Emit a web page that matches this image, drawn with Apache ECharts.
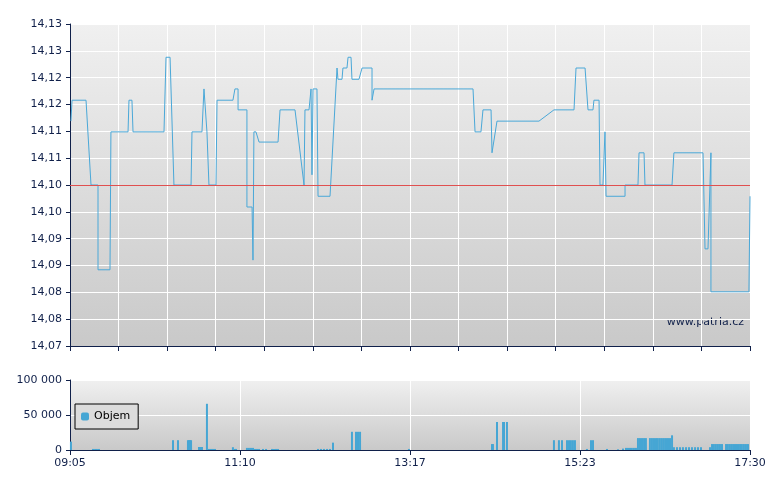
<!DOCTYPE html>
<html>
<head>
<meta charset="utf-8">
<script src="https://cdn.jsdelivr.net/npm/echarts@6/dist/echarts.min.js"></script>
<style>html,body{margin:0;background:#fff}#c{width:780px;height:490px}</style>
</head>
<body>
<div id="c"></div>
<script>
// minutes since 09:05
var priceTimes = [0.7,1.5,11.9,15.6,20.8,20.8,29.7,30.4,43.1,43.8,46.0,46.8,69.8,71.3,74.3,77.2,89.9,90.6,98.0,99.5,100.3,101.7,103.2,108.4,109.2,121.0,122.5,124.8,124.8,131.4,131.4,135.2,135.9,136.6,138.1,140.4,154.5,156.0,167.1,173.8,174.5,177.5,179.0,179.7,179.7,180.5,183.4,184.2,193.1,198.3,199.0,202.0,202.7,205.7,206.5,208.7,209.4,214.6,216.9,224.3,224.3,225.8,299.3,300.8,305.2,306.7,312.7,313.4,317.1,348.3,359.4,374.3,375.8,382.5,384.7,388.4,389.1,392.9,393.6,395.8,397.3,398.1,412.2,412.2,421.8,422.6,426.3,427.0,447.1,448.5,470.1,471.6,473.8,476.0,476.0,504.2,505];
var priceValues = [14.1119,14.1158,14.1158,14.1000,14.1000,14.0842,14.0842,14.1099,14.1099,14.1158,14.1158,14.1099,14.1099,14.1238,14.1238,14.1000,14.1000,14.1099,14.1099,14.1179,14.1179,14.1099,14.1000,14.1000,14.1158,14.1158,14.1179,14.1179,14.1140,14.1140,14.0959,14.0959,14.0860,14.1099,14.1099,14.1080,14.1080,14.1140,14.1140,14.1000,14.1140,14.1140,14.1179,14.1179,14.1019,14.1179,14.1179,14.0979,14.0979,14.1218,14.1197,14.1197,14.1218,14.1218,14.1238,14.1238,14.1197,14.1197,14.1218,14.1218,14.1158,14.1179,14.1179,14.1099,14.1099,14.1140,14.1140,14.1060,14.1119,14.1119,14.1140,14.1140,14.1218,14.1218,14.1140,14.1140,14.1158,14.1158,14.1000,14.1000,14.1099,14.0979,14.0979,14.1000,14.1000,14.1060,14.1060,14.1000,14.1000,14.1060,14.1060,14.0881,14.0881,14.1060,14.0801,14.0801,14.0979];
var refPrice = 14.098;
var volTimes = [0.7,17.1,18.6,20.0,21.5,76.5,80.2,87.6,88.4,89.1,89.9,95.8,97.3,98.0,101.7,103.2,104.7,106.2,107.7,121.0,122.5,123.3,131.4,132.9,134.4,135.9,137.4,138.9,140.4,143.3,145.6,150.0,151.5,153.0,154.5,184.2,186.4,188.6,190.9,193.1,195.3,209.4,212.4,213.9,215.4,251.7,313.4,314.1,317.1,321.6,322.3,324.5,359.4,363.1,365.4,369.1,370.6,372.0,373.5,375.0,383.9,386.9,388.4,398.8,407.0,410.7,412.9,414.4,415.9,417.3,418.8,420.3,421.8,423.3,424.8,426.3,427.7,430.7,432.2,433.7,435.2,436.6,438.1,439.6,441.1,442.6,444.1,445.6,447.1,448.5,450.8,453.0,455.2,457.5,459.7,461.9,464.2,466.4,468.6,475.3,476.8,478.2,479.7,481.2,482.7,484.2,487.2,488.6,490.1,491.6,493.1,494.6,496.1,497.6,499.0,500.5,502.0,503.5];
var volValues = [12000,1500,1500,1500,1500,14000,14000,14000,14000,14000,14000,4300,4300,4300,66000,1500,1500,1500,1500,4000,1500,1500,3000,3000,3000,3000,1500,1500,1500,1500,1500,1500,1500,1500,1500,1500,1500,1500,1500,1500,10500,26000,26000,26000,26000,1500,8500,8500,40000,40000,40000,40000,14000,14000,14000,14000,14000,14000,14000,14000,1500,14000,14000,1500,1000,2000,3000,3000,3000,3000,3000,3000,17000,17000,17000,17000,17000,17000,17000,17000,17000,17000,17000,17000,17000,17000,17000,17000,21000,4000,4000,4000,4000,4000,4000,4000,4000,4000,4000,4000,8500,8500,8500,8500,8500,8500,8500,8500,8500,8500,8500,8500,8500,8500,8500,8500,8500,8500];
var timeLabels = ['09:05','11:10','13:17','15:23','17:30'];

var navy = '#10204a';
var bg = {type:'linear',x:0,y:0,x2:0,y2:1,colorStops:[{offset:0,color:'#f0f0f0'},{offset:1,color:'#c9c9c9'}]};
var chart = echarts.init(document.getElementById('c'), null, {renderer:'canvas'});
chart.setOption({
    animation: false,
    grid: [
        {left:70, top:24, width:680, height:322, show:true, backgroundColor:bg, borderWidth:0},
        {left:70, top:380, width:680, height:70, show:true, backgroundColor:bg, borderWidth:0}
    ],
    legend: {
        data:['Objem'], left:75, top:404, orient:'vertical', itemWidth:8, itemHeight:8,
        borderColor:'#000', borderWidth:1, borderRadius:0, padding:[7,8,7,6], backgroundColor:'#dcdcdc',
        textStyle:{fontSize:11, color:'#000', fontFamily:'DejaVu Sans'}
    },
    graphic: [{type:'text', right:36, top:317, style:{text:'www.patria.cz', fontSize:11, fill:navy, fontFamily:'DejaVu Sans'}}],
    xAxis: [
        {gridIndex:0, type:'value', min:0, max:505, interval:505/14,
         axisLine:{lineStyle:{color:navy}}, axisTick:{length:5, lineStyle:{color:navy}},
         axisLabel:{show:false}, splitLine:{lineStyle:{color:'#fff', width:1}}},
        {gridIndex:1, type:'value', min:0, max:505, interval:505/4,
         axisLine:{lineStyle:{color:navy}}, axisTick:{length:5, lineStyle:{color:navy}},
         axisLabel:{color:navy, fontSize:11, fontFamily:'DejaVu Sans', formatter:function(v){return timeLabels[Math.round(v/126.25)];}},
         splitLine:{lineStyle:{color:'#fff'}}}
    ],
    yAxis: [
        {gridIndex:0, type:'value', min:14.07, max:14.13, interval:0.005,
         axisLine:{show:true, lineStyle:{color:navy}}, axisTick:{show:true, length:4, lineStyle:{color:navy}},
         axisLabel:{color:navy, fontSize:11, fontFamily:'DejaVu Sans', formatter:function(v){return (v+1e-9).toFixed(2).replace('.',',');}},
         splitLine:{lineStyle:{color:'#fff'}}},
        {gridIndex:1, type:'value', min:0, max:100000, interval:50000,
         axisLine:{show:true, lineStyle:{color:navy}}, axisTick:{show:true, length:4, lineStyle:{color:navy}},
         axisLabel:{color:navy, fontSize:11, fontFamily:'DejaVu Sans', formatter:function(v){return String(v).replace(/\B(?=(\d{3})+(?!\d))/g,' ');}},
         splitLine:{lineStyle:{color:'#fff'}}}
    ],
    series: [
        {type:'line', xAxisIndex:0, yAxisIndex:0, showSymbol:false, silent:true,
         lineStyle:{color:'#4aa8d8', width:1},
         data: priceTimes.map(function(t,i){return [t, priceValues[i]];}),
         markLine:{symbol:'none', silent:true, label:{show:false}, lineStyle:{color:'#e05050', type:'solid', width:1},
                   data:[{yAxis:refPrice}]}},
        {name:'Objem', type:'bar', xAxisIndex:1, yAxisIndex:1, barWidth:2, silent:true,
         itemStyle:{color:'#46a6d4'},
         data: volTimes.map(function(t,i){return [t, volValues[i]];})}
    ]
});
</script>
</body>
</html>
